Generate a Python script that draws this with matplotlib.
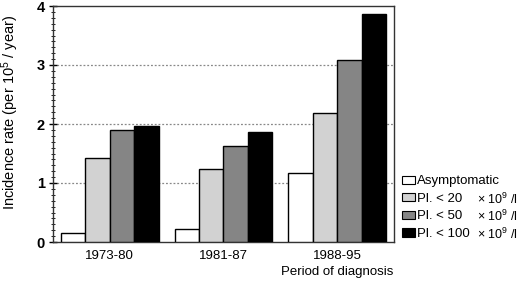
import numpy as np
import matplotlib
matplotlib.use('Agg')
import matplotlib.pyplot as plt
from matplotlib.ticker import MultipleLocator

plt.rcParams['font.family'] = ['Liberation Sans', 'DejaVu Sans']
plt.rcParams['mathtext.fontset'] = 'custom'
plt.rcParams['mathtext.rm'] = 'Liberation Sans'
plt.rcParams['mathtext.it'] = 'Liberation Sans'

periods = ['1973-80', '1981-87', '1988-95']
series = ['Asymptomatic', 'Pl. < 20', 'Pl. < 50', 'Pl. < 100']
asymptomatic = [0.15, 0.22, 1.17]
pl20 = [1.43, 1.23, 2.18]
pl50 = [1.90, 1.62, 3.08]
pl100 = [1.97, 1.86, 3.87]
colors = ['white', '#d2d2d2', '#858585', 'black']

values = [asymptomatic, pl20, pl50, pl100]

fig = plt.figure(figsize=(5.2, 2.82), dpi=100)
ax = fig.add_axes([53/520, 40/282, 341/520, 236/282])

x = np.arange(len(periods))
w = 0.215
for i, (vals, c, lab) in enumerate(zip(values, colors, series)):
    ax.bar(x + (i - 1.5) * w, vals, width=w, color=c, edgecolor='black',
           linewidth=1.0, label=lab, zorder=3)

for y in [1, 2, 3]:
    ax.axhline(y, color='#888888', linestyle=(0, (1.5, 1.5)), linewidth=0.9, zorder=1)

ax.set_xlim(-0.5, 2.5)
ax.set_ylim(0, 4)
ax.set_xticks(x)
ax.set_xticklabels(periods, fontsize=9.5)
ax.tick_params(axis='x', length=0, pad=6)
ax.set_yticks([0, 1, 2, 3, 4])
ax.set_yticklabels(['0', '1', '2', '3', '4'], fontsize=10.5, fontweight='bold')
ax.yaxis.set_minor_locator(MultipleLocator(0.1))
ax.tick_params(axis='y', which='major', direction='inout', length=6, width=1, pad=3)
ax.tick_params(axis='y', which='minor', direction='inout', length=3, width=0.6)
for s in ax.spines.values():
    s.set_linewidth(1.0)
    s.set_color('#333333')

fig.text(10/520, 1 - 112/282, 'Incidence rate (per 10$^5$ / year)', fontsize=10.5,
         rotation=90, ha='center', va='center')
fig.text(393/520, 1 - 272/282, 'Period of diagnosis', fontsize=9.5,
         ha='right', va='center')

leg = ax.legend(loc='lower left', bbox_to_anchor=(402/520, 42/282),
                bbox_transform=fig.transFigure, frameon=False, fontsize=9.5,
                handlelength=1.0, handleheight=0.6, handletextpad=0.15,
                labelspacing=0.42, borderpad=0, borderaxespad=0)
for p in leg.get_patches():
    p.set_linewidth(0.8)

fig.canvas.draw()
r = fig.canvas.get_renderer()
inv = fig.transFigure.inverted()
for t in leg.get_texts()[1:]:
    bb = t.get_window_extent(r)
    yc = inv.transform((0, (bb.y0 + bb.y1) / 2))[1]
    fig.text(477/520, yc, '× 10$^9$ /l', fontsize=9, ha='left', va='center')

fig.savefig('out.png', dpi=100)
